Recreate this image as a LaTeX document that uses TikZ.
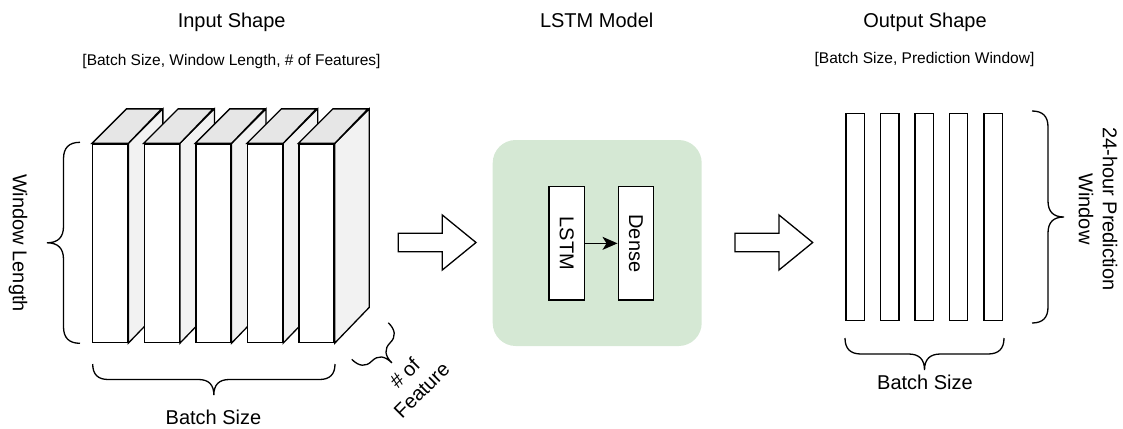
\documentclass[tikz,border=0pt]{standalone}
\usepackage{fontspec}
\setmainfont{Liberation Sans}
\usetikzlibrary{arrows.meta,decorations}

% Curly brace with rounded hooks; the hook length adapts to short spans
\pgfdeclaredecoration{curly brace}{start}{%
  \state{start}[width=+\pgfdecoratedremainingdistance,next state=final]{%
    \pgfmathsetlengthmacro\cbLen{\pgfdecoratedremainingdistance}%
    \pgfmathsetlengthmacro\cbAmp{\pgfdecorationsegmentamplitude}%
    \pgfmathsetlengthmacro\cbHalf{0.5*\cbAmp}%
    \pgfmathsetlengthmacro\cbCurl{min(\cbHalf,0.25*\cbLen)}%
    \pgfmathsetlengthmacro\cbMid{0.5*\cbLen}%
    \pgfmathsetlengthmacro\cbHalfC{2/3*\cbHalf}%
    \pgfmathsetlengthmacro\cbTipC{2/3*\cbAmp}%
    \pgfmathsetlengthmacro\cbCurlT{\cbCurl/3}%
    \pgfmathsetlengthmacro\cbMidA{\cbMid-\cbCurl}%
    \pgfmathsetlengthmacro\cbMidAT{\cbMid-\cbCurl/3}%
    \pgfmathsetlengthmacro\cbMidB{\cbMid+\cbCurl}%
    \pgfmathsetlengthmacro\cbMidBT{\cbMid+\cbCurl/3}%
    \pgfmathsetlengthmacro\cbEndA{\cbLen-\cbCurl}%
    \pgfmathsetlengthmacro\cbEndAT{\cbLen-\cbCurl/3}%
    \pgfpathmoveto{\pgfpointorigin}%
    \pgfpathcurveto{\pgfqpoint{0pt}{\cbHalfC}}{\pgfqpoint{\cbCurlT}{\cbHalf}}{\pgfqpoint{\cbCurl}{\cbHalf}}%
    \pgfpathlineto{\pgfqpoint{\cbMidA}{\cbHalf}}%
    \pgfpathcurveto{\pgfqpoint{\cbMidAT}{\cbHalf}}{\pgfqpoint{\cbMid}{\cbTipC}}{\pgfqpoint{\cbMid}{\cbAmp}}%
    \pgfpathcurveto{\pgfqpoint{\cbMid}{\cbTipC}}{\pgfqpoint{\cbMidBT}{\cbHalf}}{\pgfqpoint{\cbMidB}{\cbHalf}}%
    \pgfpathlineto{\pgfqpoint{\cbEndA}{\cbHalf}}%
    \pgfpathcurveto{\pgfqpoint{\cbEndAT}{\cbHalf}}{\pgfqpoint{\cbLen}{\cbHalfC}}{\pgfqpoint{\cbLen}{0pt}}%
  }%
  \state{final}{\pgfpathmoveto{\pgfpointdecoratedpathlast}}%
}

\definecolor{modelgreen}{HTML}{D5E8D4}
\definecolor{topgray}{HTML}{E6E6E6}
\definecolor{sidegray}{HTML}{F2F2F2}

\tikzset{
  outline/.style={draw=black, line width=1.3pt},
  frontface/.style={outline, fill=white, minimum width=35pt, minimum height=198.5pt, inner sep=0pt},
  outbar/.style={outline, fill=white, minimum width=18.5pt, minimum height=207.4pt, inner sep=0pt},
  layerbox/.style={outline, fill=white, minimum width=35.3pt, minimum height=113.3pt, inner sep=0pt},
  bigfont/.style={font=\fontsize{20}{24}\selectfont},
  smallfont/.style={font=\fontsize{15.5}{18}\selectfont},
  curly/.style={draw=black, line width=1.3pt, decorate, decoration={curly brace, amplitude=#1}},
  pics/blockarrow/.style={code={
    \draw[outline, fill=white, line join=miter]
      (0,-9.2) -- (44,-9.2) -- (44,-27.5) -- (77.7,0) -- (44,27.5) -- (44,9.2) -- (0,9.2) -- cycle;
  }}
}

\begin{document}
\begin{tikzpicture}[x=1pt, y=-1pt]
\useasboundingbox (0,0) rectangle (1123,428);

% ---------- headings ----------
\node[bigfont, anchor=base] (tin) at (231.7,27.5) {Input Shape};
\node[smallfont, anchor=base] (sin) at (231.5,65) {[Batch Size, Window Length, \# of Features]};
\node[bigfont, anchor=base] (tmod) at (596.7,28) {LSTM Model};
\node[bigfont, anchor=base] (tout) at (925,28) {Output Shape};
\node[smallfont, anchor=base] (sout) at (924.5,63.5) {[Batch Size, Prediction Window]};

% ---------- input tensor: five slabs ----------
\foreach \i/\x in {1/110.2,2/161.8,3/213.4,4/265.0,5/316.6}{
  \node[frontface] (f\i) at (\x,243.25) {};
  \draw[outline, fill=sidegray] (f\i.north east) -- ++(34.5,-34.5) -- ++(0,198.5) -- (f\i.south east) -- cycle;
  \draw[outline, fill=topgray] (f\i.north west) -- ++(34.5,-34.5) -- ++(35,0) -- (f\i.north east) -- cycle;
  \node[frontface] at (f\i) {};
}

% Window length brace
\coordinate (wlA) at (80,343.3);
\coordinate (wlB) at (80,142.3);
\draw[curly=33pt] (wlA) -- (wlB);
\node[bigfont, rotate=-90] (wl) at (18,243) {Window Length};

% batch size brace (input)
\coordinate (bsA) at (335,364);
\coordinate (bsB) at (92.7,364);
\draw[curly=31pt] (bsA) -- (bsB);
\node[bigfont, anchor=base] (bs) at (213.5,424.3) {Batch Size};

% feature brace
\coordinate (ftA) at (388.3,322.7);
\coordinate (ftB) at (351.7,359.3);
\draw[curly=31pt] (ftA) -- (ftB);
\node[bigfont, rotate=45, align=center] (ft) at (413,381.5) {\# of\\Feature};

% ---------- block arrows ----------
\coordinate (ar1) at (398.3,242.5);
\coordinate (ar2) at (735,242.5);
\pic at (ar1) {blockarrow};
\pic at (ar2) {blockarrow};

% ---------- model ----------
\node[fill=modelgreen, rounded corners=23pt, minimum width=209pt, minimum height=206pt, inner sep=0pt] (model) at (597.2,243) {};
\node[layerbox] (lstm) at (566.7,243.35) {};
\node[layerbox] (dense) at (635.8,243.35) {};
\node[bigfont, rotate=-90] (lstmtxt) at (lstm) {LSTM};
\node[bigfont, rotate=-90] (densetxt) at (dense) {Dense};
\draw[draw=black, line width=1.3pt, -{Stealth[length=15pt, width=13pt, inset=4pt]}] (lstm.east) -- (dense.west);

% ---------- output tensor ----------
\foreach \i/\x in {1/855.2,2/889.8,3/924.2,4/958.5,5/993.3}{
  \node[outbar] (o\i) at (\x,217) {};
}
\coordinate (owA) at (1032,111);
\coordinate (owB) at (1032,323);
\draw[curly=32pt] (owA) -- (owB);
\node[bigfont, rotate=-90, align=center] (ow) at (1098,209) {24-hour Prediction\\Window};

\coordinate (obA) at (1004,338);
\coordinate (obB) at (845,338);
\draw[curly=32pt] (obA) -- (obB);
\node[bigfont, anchor=base] (ob) at (925,389.3) {Batch Size};
\end{tikzpicture}
\end{document}
